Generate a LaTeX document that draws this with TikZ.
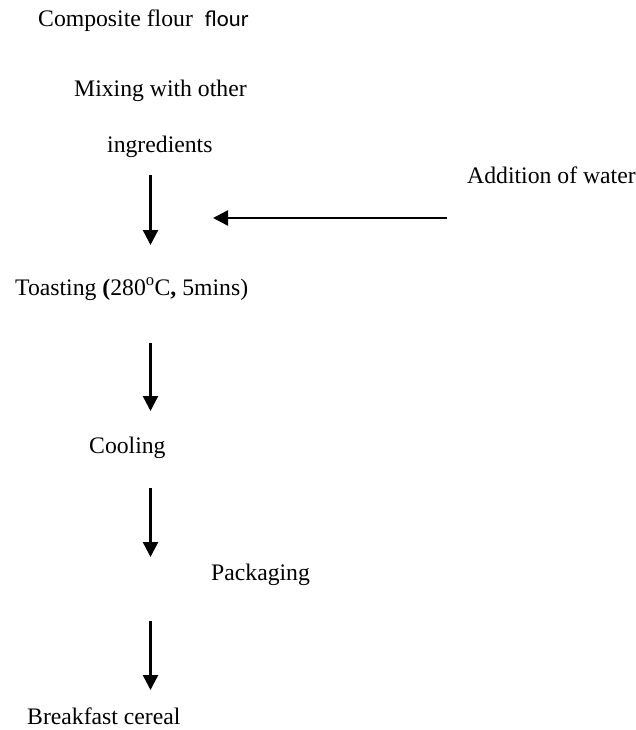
\documentclass[tikz,border=0pt]{standalone}
\usepackage{fontspec}
\setmainfont{Liberation Serif}
\newfontfamily\carlito{Carlito}
\usetikzlibrary{arrows.meta}
\begin{document}
\begin{tikzpicture}[x=1pt,y=-1pt,
  lbl/.style={anchor=base west,inner sep=0pt,font=\fontsize{23.7}{28}\selectfont},
  flowarrow/.style={line width=2.4pt,-{Triangle[width=15pt,length=15pt]}}]
\useasboundingbox (0,0) rectangle (636,730);
\node[lbl] (comp) at (38,27) {Composite flour\hspace{12pt}{\carlito\fontsize{22.7}{28}\selectfont flour}};
\node[lbl] (mix) at (74,97) {Mixing with other};
\node[lbl] (ingr) at (107,153) {ingredients};
\node[lbl] (water) at (467,183) {Addition of water};
\node[lbl] (toast) at (15,295) {Toasting \textbf{(}280\textsuperscript{o}C\textbf{,} 5mins)};
\node[lbl] (cool) at (89,453) {Cooling};
\node[lbl] (pack) at (211,580) {Packaging};
\node[lbl] (cereal) at (27,724) {Breakfast cereal};
\coordinate (a1s) at (150.5,175);
\coordinate (a1e) at (150.5,245);
\coordinate (wS) at (447,218);
\coordinate (wE) at (213,218);
\coordinate (a2s) at (150.5,343);
\coordinate (a2e) at (150.5,411);
\coordinate (a3s) at (150.5,488);
\coordinate (a3e) at (150.5,557);
\coordinate (a4s) at (150.5,621);
\coordinate (a4e) at (150.5,690);
\draw[flowarrow] (a1s) -- (a1e);
\draw[flowarrow] (wS) -- (wE);
\draw[flowarrow] (a2s) -- (a2e);
\draw[flowarrow] (a3s) -- (a3e);
\draw[flowarrow] (a4s) -- (a4e);
\end{tikzpicture}
\end{document}
